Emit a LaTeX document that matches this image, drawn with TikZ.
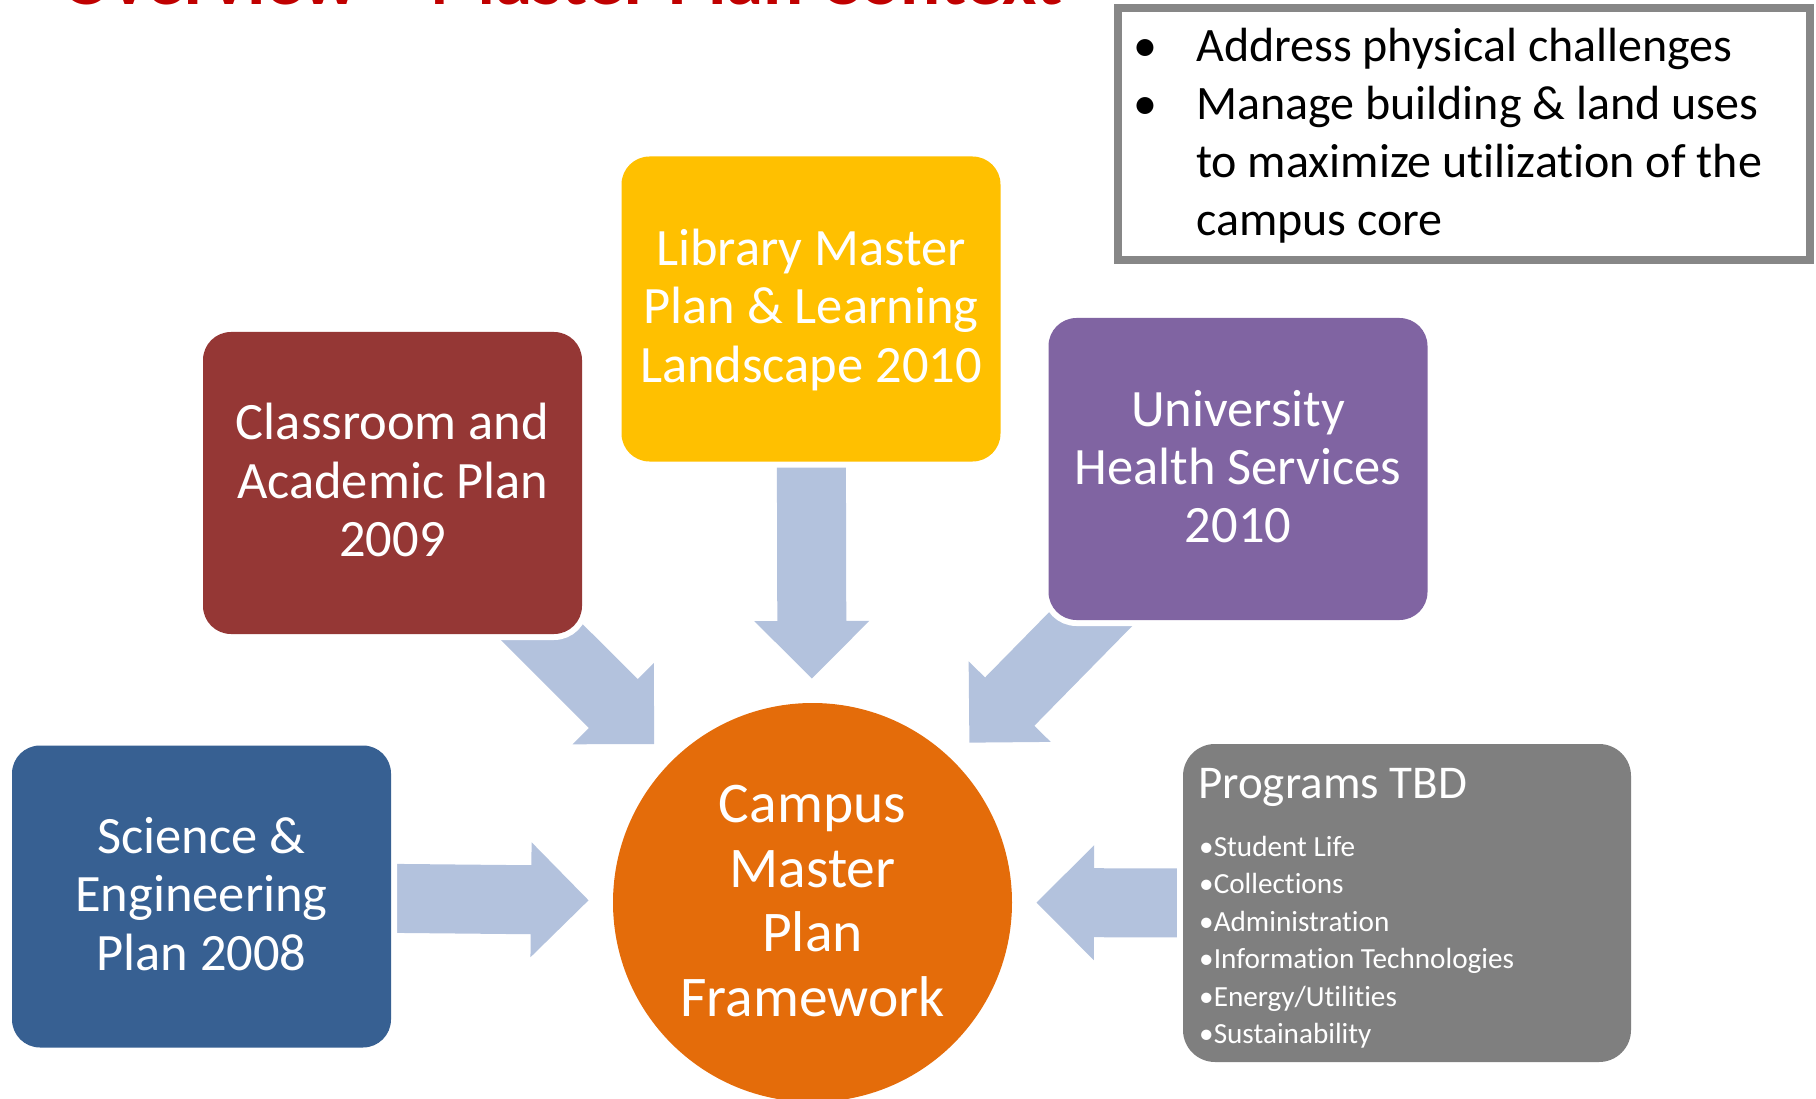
\documentclass[tikz,border=0pt]{standalone}
\usepackage{fontspec}
\setmainfont{Carlito}[RawFeature={-liga;-clig;-dlig}]
\usetikzlibrary{calc}
\pgfdeclarelayer{bg}
\pgfsetlayers{bg,main}

\definecolor{crimsonbox}{HTML}{953735}
\definecolor{goldbox}{HTML}{FFC000}
\definecolor{purplebox}{HTML}{8064A2}
\definecolor{bluebox}{HTML}{376092}
\definecolor{orangecirc}{HTML}{E46C0A}
\definecolor{graybox}{HTML}{7F7F7F}
\definecolor{arrowblue}{HTML}{B3C2DD}
\definecolor{titlered}{HTML}{C00000}
\definecolor{frameg}{HTML}{878787}

% break the "ti" ligature of the font
\newcommand\nlg{\kern0pt{}}

% block arrow from the centre of node #1 towards the hub, named #2
\newcommand\blockarrow[2]{%
  \coordinate (#2-tip) at ($(hub.center)!224pt!(#1.center)$);
  \coordinate (#2-base) at ($(#2-tip)!57.5pt!(#1.center)$);
  \fill[arrowblue]
    ($(#1.center)!34.5pt!90:(#2-tip)$) --
    ($(#2-base)!34.5pt!90:(#2-tip)$) --
    ($(#2-base)!57.5pt!90:(#2-tip)$) --
    (#2-tip) --
    ($(#2-base)!57.5pt!-90:(#2-tip)$) --
    ($(#2-base)!34.5pt!-90:(#2-tip)$) --
    ($(#1.center)!34.5pt!-90:(#2-tip)$) -- cycle;
}

\tikzset{
  box/.style={rectangle, rounded corners=28pt, inner sep=0pt,
    minimum width=379pt, minimum height=302pt,
    preaction={draw=white, line width=12pt}},
  btext/.style={text=white, font=\fontsize{52.5pt}{58pt}\selectfont, anchor=base, inner sep=0pt},
  ctext/.style={text=white, font=\fontsize{57.5pt}{64pt}\selectfont, anchor=base, inner sep=0pt},
  ptitle/.style={text=white, font=\fontsize{47pt}{56pt}\selectfont, anchor=base west, inner sep=0pt},
  pitem/.style={text=white, font=\fontsize{29.2pt}{36pt}\selectfont, anchor=base west, inner sep=0pt},
  ntext/.style={text=black, font=\fontsize{48pt}{58pt}\selectfont, anchor=base west, inner sep=0pt},
  nbullet/.style={text=black, font=\fontsize{48pt}{58pt}\selectfont, anchor=base, inner sep=0pt},
}

\begin{document}
\begin{tikzpicture}[x=1pt, y=-1pt]
\useasboundingbox (0,0) rectangle (1816,1099);
\clip (0,0) rectangle (1816,1099);

% title (cut off at the top, as in the reference)
\node[anchor=base west, inner sep=0pt, text=titlered,
      font=\bfseries\fontsize{75pt}{90pt}\selectfont] (title) at (61,4.5)
      {Overview – Master Plan Context};

% notes frame
\node[draw=frameg, line width=8pt, inner sep=0pt,
      minimum width=692.5pt, minimum height=252.5pt] (notes) at (1463.75,134.25) {};
\node[nbullet] (nb1) at (1145,62) {•};
\node[nbullet] (nb2) at (1145,120) {•};
\node[ntext] (nt1) at (1196,62) {Address physical challenges};
\node[ntext] (nt2) at (1196,120) {Manage building \& land uses};
\node[ntext] (nt3) at (1196,178) {to maximize ut\nlg ilizat\nlg ion of the};
\node[ntext] (nt4) at (1196,236) {campus core};

% boxes
\node[box, fill=crimsonbox] (cls) at (392.5,483) {};
\node[box, fill=goldbox, minimum height=305pt] (lib) at (811,309) {};
\node[box, fill=purplebox] (uni) at (1238,469) {};
\node[box, fill=bluebox] (sci) at (201.5,896.5) {};
\node[box, fill=graybox, minimum width=448pt, minimum height=318pt,
      rounded corners=32pt] (prog) at (1407,903) {};
\node[circle, fill=orangecirc, minimum size=399pt, inner sep=0pt] (hub) at (812.5,902.5) {};

% texts
\node[btext] (cls1) at (392.5,439.5) {Classroom and};
\node[btext] (cls2) at (392.5,498) {Academic Plan};
\node[btext] (cls3) at (392.5,556.5) {2009};

\node[btext] (lib1) at (811,266) {Library Master};
\node[btext] (lib2) at (811,324) {Plan \& Learning};
\node[btext] (lib3) at (811,383) {Landscape 2010};

\node[btext] (uni1) at (1238,426) {University};
\node[btext] (uni2) at (1238,484) {Health Services};
\node[btext] (uni3) at (1238,542.5) {2010};

\node[btext] (sci1) at (201.5,853) {Science \&};
\node[btext] (sci2) at (201.5,911.5) {Engineering};
\node[btext] (sci3) at (201.5,970) {Plan 2008};

\node[ctext] (hub1) at (812.5,822.5) {Campus};
\node[ctext] (hub2) at (812.5,887.5) {Master};
\node[ctext] (hub3) at (812.5,951.5) {Plan};
\node[ctext] (hub4) at (812.5,1016) {Framework};

\node[ptitle] (prog0) at (1198,798) {Programs TBD};
\node[pitem] (prog1) at (1199,856) {•Student Life};
\node[pitem] (prog2) at (1199,893.3) {•Collect\nlg ions};
\node[pitem] (prog3) at (1199,931) {•Administrat\nlg ion};
\node[pitem] (prog4) at (1199,968.5) {•Informat\nlg ion Technologies};
\node[pitem] (prog5) at (1199,1006) {•Energy/Ut\nlg ilit\nlg ies};
\node[pitem] (prog6) at (1199,1043) {•Sustainability};

% block arrows, behind the boxes
\begin{pgfonlayer}{bg}
\blockarrow{cls}{acls}
\blockarrow{lib}{alib}
\blockarrow{uni}{auni}
\blockarrow{sci}{asci}
\blockarrow{prog}{aprog}
\end{pgfonlayer}
\end{tikzpicture}
\end{document}
